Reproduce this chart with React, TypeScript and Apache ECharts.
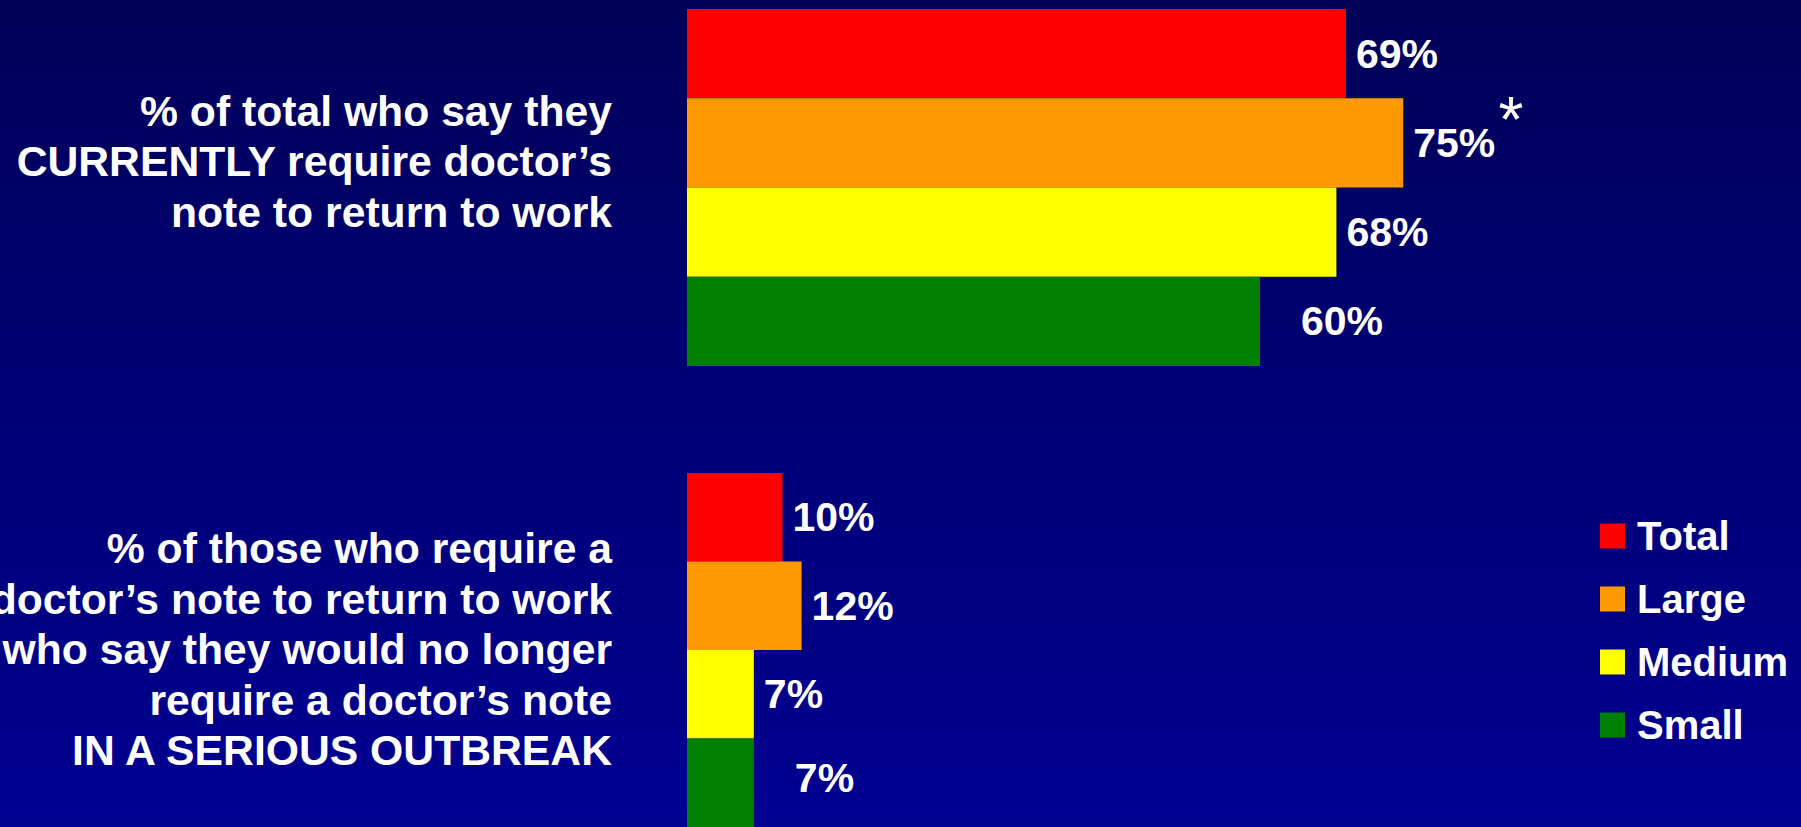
import React, { useEffect, useRef } from "react";
import * as echarts from "echarts";

const sizes = ["Total", "Large", "Medium", "Small"];
const currentlyRequire = [69, 75, 68, 60];
const noLongerRequire = [10, 12, 7, 7];
const colors = ["#FF0000", "#FF9900", "#FFFF00", "#008000"];
const groupTexts = [
  ["% of total who say they", "CURRENTLY require doctor\u2019s", "note to return to work"],
  [
    "% of those who require a",
    "doctor\u2019s note to return to work",
    "who say they would no longer",
    "require a doctor\u2019s note",
    "IN A SERIOUS OUTBREAK",
  ],
];
const significanceMark = "*";

const FONT = '"Liberation Sans", Arial, Helvetica, sans-serif';

export default function App() {
  const ref = useRef<HTMLDivElement>(null);

  useEffect(() => {
    document.body.style.margin = "0";
    const chart = echarts.init(ref.current!, null, { renderer: "svg" });
    const groups = [currentlyRequire, noLongerRequire];
    const series: any[] = [];
    groups.forEach((vals, g) => {
      sizes.forEach((name, i) => {
        series.push({
          type: "bar",
          name,
          xAxisIndex: g,
          yAxisIndex: g,
          stack: "g" + g,
          barWidth: "100%",
          data: vals.map((v, j) => (j === i ? v : "-")),
          itemStyle: { color: colors[i] },
          label: {
            show: true,
            position: "right",
            distance: i === 3 ? 41 : 10,
            offset: g === 1 && i === 3 ? [0, -5] : [0, 0],
            formatter: "{c}%",
            color: "#FFFFFF",
            fontFamily: FONT,
            fontWeight: "bold",
            fontSize: 41,
          },
        });
      });
    });

    chart.setOption({
      animation: false,
      backgroundColor: {
        type: "linear",
        x: 0,
        y: 0,
        x2: 0,
        y2: 1,
        colorStops: [
          { offset: 0, color: "#000058" },
          { offset: 1, color: "#000092" },
        ],
      },
      grid: [
        { left: 687, top: 9, width: 955, height: 357 },
        { left: 687, top: 473, width: 955, height: 356 },
      ],
      xAxis: [
        { type: "value", gridIndex: 0, min: 0, max: 100, show: false },
        { type: "value", gridIndex: 1, min: 0, max: 100, show: false },
      ],
      yAxis: [
        { type: "category", gridIndex: 0, data: sizes, inverse: true, show: false },
        { type: "category", gridIndex: 1, data: sizes, inverse: true, show: false },
      ],
      legend: {
        orient: "vertical",
        left: 1600,
        top: 516,
        padding: 0,
        itemWidth: 25,
        itemHeight: 25,
        itemGap: 23,
        icon: "rect",
        selectedMode: false,
        data: sizes,
        textStyle: {
          color: "#FFFFFF",
          fontFamily: FONT,
          fontWeight: "bold",
          fontSize: 40,
          padding: [0, 0, 0, 7],
        },
      },
      graphic: [
        {
          type: "text",
          x: 612,
          y: 161,
          style: {
            text: groupTexts[0].join("\n"),
            fill: "#FFFFFF",
            font: "bold 42.7px " + FONT,
            lineHeight: 50.5,
            align: "right",
            verticalAlign: "middle",
          },
        },
        {
          type: "text",
          x: 612,
          y: 649,
          style: {
            text: groupTexts[1].join("\n"),
            fill: "#FFFFFF",
            font: "bold 42.7px " + FONT,
            lineHeight: 50.5,
            align: "right",
            verticalAlign: "middle",
          },
        },
        {
          type: "text",
          x: 1511,
          y: 120,
          style: {
            text: significanceMark,
            fill: "#FFFFFF",
            font: "normal 64px " + FONT,
            align: "center",
            verticalAlign: "middle",
          },
        },
      ],
      series,
    });
    return () => chart.dispose();
  }, []);

  return (
    <div
      ref={ref}
      style={{ position: "absolute", left: 0, top: 0, width: 1801, height: 827 }}
    />
  );
}
